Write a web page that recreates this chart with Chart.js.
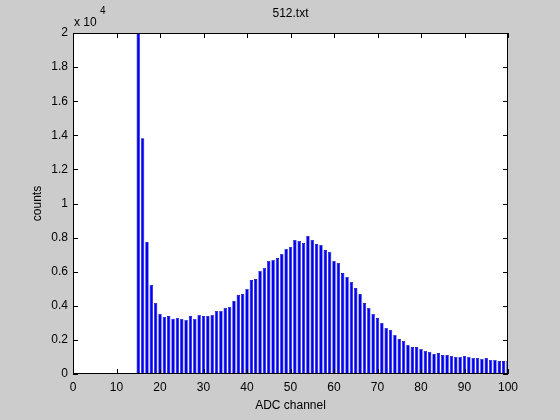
<!DOCTYPE html>
<html>
<head>
<meta charset="utf-8">
<script src="https://cdn.jsdelivr.net/npm/chart.js@4.4.1/dist/chart.umd.min.js"></script>
<style>
    html, body { margin: 0; padding: 0; background: #cccccc; }
    #wrap { width: 560px; height: 420px; }
</style>
</head>
<body>
<div id="wrap"><canvas id="histChart" width="560" height="420"></canvas></div>
<script>
// ADC channels and counts
const channels = [15, 16, 17, 18, 19, 20, 21, 22, 23, 24, 25, 26, 27, 28, 29, 30,
    31, 32, 33, 34, 35, 36, 37, 38, 39, 40, 41, 42, 43, 44, 45, 46, 47, 48, 49, 50,
    51, 52, 53, 54, 55, 56, 57, 58, 59, 60, 61, 62, 63, 64, 65, 66, 67, 68, 69, 70,
    71, 72, 73, 74, 75, 76, 77, 78, 79, 80, 81, 82, 83, 84, 85, 86, 87, 88, 89, 90,
    91, 92, 93, 94, 95, 96, 97, 98, 99, 100];
const counts = [26000, 13820, 7740, 5220, 4170, 3530, 3350, 3400, 3240, 3290, 3230, 3170, 3400, 3230, 3460, 3400,
    3400, 3460, 3700, 3700, 3870, 3930, 4280, 4630, 4690, 4990, 5510, 5570, 6040, 6220, 6630, 6690, 6800, 7040, 7330, 7450,
    7860, 7800, 7680, 8090, 7860, 7620, 7570, 7270, 7160, 6630, 6510, 5920, 5690, 5400, 5040, 4690, 4160, 3870, 3520, 3280,
    2990, 2700, 2580, 2290, 2050, 1940, 1700, 1580, 1580, 1470, 1350, 1290, 1170, 1230, 1110, 1110, 1060, 1000, 1000, 1060,
    1000, 940, 940, 880, 940, 820, 820, 760, 760, 760];
const xTicks = [0, 10, 20, 30, 40, 50, 60, 70, 80, 90, 100];
const yTicks = [0, 2000, 4000, 6000, 8000, 10000, 12000, 14000, 16000, 18000, 20000];

const FONT = 'Liberation Sans, Arial, Helvetica, sans-serif';

// frame, inward ticks and the MATLAB style text around the axes
const matlabFrame = {
    id: 'matlabFrame',
    beforeDraw(chart) {
        const ctx = chart.ctx;
        const a = chart.chartArea;
        ctx.save();
        ctx.fillStyle = '#cccccc';
        ctx.fillRect(0, 0, chart.width, chart.height);
        ctx.fillStyle = '#ffffff';
        ctx.fillRect(a.left, a.top, a.right - a.left, a.bottom - a.top);
        ctx.restore();
    },
    afterDraw(chart) {
        const ctx = chart.ctx;
        const a = chart.chartArea;
        const xs = chart.scales.x;
        const ys = chart.scales.y;
        ctx.save();
        ctx.strokeStyle = '#000000';
        ctx.lineWidth = 1;
        ctx.beginPath();
        ctx.rect(Math.round(a.left) + 0.5, Math.round(a.top) + 0.5,
            Math.round(a.right - a.left) - 1, Math.round(a.bottom - a.top) - 1);
        xTicks.forEach(v => {
            const px = Math.round(xs.getPixelForValue(v)) + 0.5;
            ctx.moveTo(px, a.bottom);
            ctx.lineTo(px, a.bottom - 5);
            ctx.moveTo(px, a.top);
            ctx.lineTo(px, a.top + 5);
        });
        yTicks.forEach(v => {
            const py = Math.round(ys.getPixelForValue(v)) + 0.5;
            ctx.moveTo(a.left, py);
            ctx.lineTo(a.left + 5, py);
            ctx.moveTo(a.right, py);
            ctx.lineTo(a.right - 5, py);
        });
        ctx.stroke();

        ctx.fillStyle = '#000000';
        ctx.font = '12px ' + FONT;
        ctx.textAlign = 'center';
        ctx.textBaseline = 'alphabetic';
        ctx.fillText('512.txt', (a.left + a.right) / 2, 17);
        ctx.fillText('ADC channel', (a.left + a.right) / 2, 409);

        ctx.textAlign = 'left';
        ctx.fillText('x 10', a.left + 1, 26);
        ctx.font = '10px ' + FONT;
        ctx.fillText('4', a.left + 27, 14);

        ctx.font = '12px ' + FONT;
        ctx.translate(41, (a.top + a.bottom) / 2);
        ctx.rotate(-Math.PI / 2);
        ctx.textAlign = 'center';
        ctx.fillText('counts', 0, 0);
        ctx.restore();
    }
};

const histCtx = document.getElementById('histChart');
new Chart(histCtx, {
    type: 'bar',
    data: {
        labels: channels,
        datasets: [{
            label: 'counts',
            data: channels.map((c, i) => ({ x: c, y: counts[i] })),
            backgroundColor: '#0000f5',
            borderColor: '#0000b0',
            borderWidth: 0.6,
            borderSkipped: 'start',
            barPercentage: 0.78,
            categoryPercentage: 1.0,
            clip: 0
        }]
    },
    options: {
        responsive: false,
        animation: false,
        devicePixelRatio: 1,
        layout: {
            padding: { left: 0, right: 52, top: 33, bottom: 0 }
        },
        plugins: {
            legend: { display: false },
            title: { display: false },
            tooltip: { enabled: false }
        },
        scales: {
            x: {
                type: 'linear',
                min: 0,
                max: 100,
                offset: false,
                afterBuildTicks: scale => {
                    scale.ticks = xTicks.map(v => ({ value: v }));
                },
                afterFit: scale => { scale.height = 46; },
                border: { display: false },
                grid: { display: false, drawTicks: false, offset: false },
                ticks: {
                    color: '#000000',
                    padding: 6,
                    maxRotation: 0,
                    autoSkip: false,
                    font: { family: FONT, size: 12 }
                }
            },
            y: {
                min: 0,
                max: 20000,
                afterBuildTicks: scale => {
                    scale.ticks = yTicks.map(v => ({ value: v }));
                },
                afterFit: scale => { scale.width = 73; },
                border: { display: false },
                grid: { display: false, drawTicks: false },
                ticks: {
                    color: '#000000',
                    padding: 5,
                    autoSkip: false,
                    font: { family: FONT, size: 12 },
                    callback: v => String(v / 10000)
                }
            }
        }
    },
    plugins: [matlabFrame]
});
</script>
</body>
</html>
